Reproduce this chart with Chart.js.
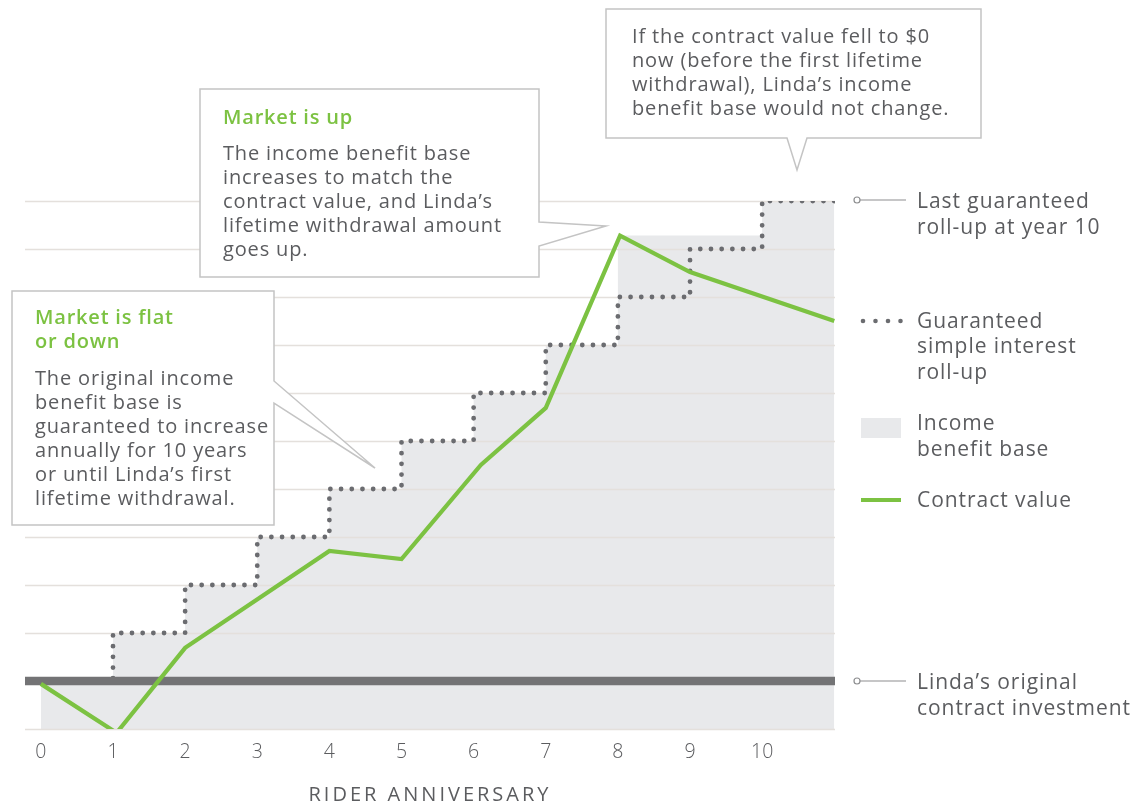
<!DOCTYPE html>
<html>
<head>
<meta charset="utf-8">
<script src="https://cdn.jsdelivr.net/npm/chart.js@4.4.1/dist/chart.umd.min.js"></script>
<style>
  html, body { margin: 0; padding: 0; background: #ffffff; }
  #wrap { width: 1139px; height: 804px; position: relative; }
</style>
</head>
<body>
<div id="wrap"><canvas id="chart" width="1139" height="804"></canvas></div>
<script>
// Rider anniversaries shown on the x axis
const anniversaries = [0, 1, 2, 3, 4, 5, 6, 7, 8, 9, 10];
const tickLabels = ['0', '1', '2', '3', '4', '5', '6', '7', '8', '9', '10'];
const axisTitle = 'RIDER ANNIVERSARY';

// Linda's original contract investment (in units of the chart's grid)
const originalInvestment = 1;

// Guaranteed simple interest roll-up, stepping up each anniversary until year 10
const rollupYears = [0, 1, 2, 3, 4, 5, 6, 7, 8, 9, 10, 11];
const rollupValues = [1, 2, 3, 4, 5, 6, 7, 8, 9, 10, 11, 11];

// Income benefit base (steps up to the contract value at year 8)
const baseYears = [0, 1, 2, 3, 4, 5, 6, 7, 8, 9, 10, 11];
const baseValues = [1, 2, 3, 4, 5, 6, 7, 8, 10.28, 10.28, 11, 11];

// Contract value path
const contractYears = [0, 1.05, 2, 4, 5, 6.1, 7, 8.03, 9, 11];
const contractValues = [0.94, -0.08, 1.69, 3.71, 3.54, 5.5, 6.69, 10.28, 9.52, 8.5];

const FONT = '"Open Sans", "DejaVu Sans", sans-serif';
const TEXT = '#5b5c5f';
const GREEN = '#7cc242';
const DOT = '#6b6c70';
const BASE_FILL = '#e8e9eb';
const GRID = '#e4e0dc';

const pts = (xs, ys) => xs.map((x, i) => ({ x: x, y: ys[i] }));

// Grid lines are painted right after the benefit-base fill so they sit on top of it
const gridAfterFill = {
  id: 'gridAfterFill',
  afterDatasetDraw(chart, args) {
    if (args.index !== 0) return;
    const { ctx, chartArea, scales } = chart;
    const y = scales.y;
    ctx.save();
    ctx.strokeStyle = GRID;
    ctx.lineWidth = 1.3;
    for (let v = y.min; v <= y.max; v += 1) {
      const py = Math.round(y.getPixelForValue(v)) + 0.5;
      ctx.beginPath();
      ctx.moveTo(chartArea.left, py);
      ctx.lineTo(chartArea.right, py);
      ctx.stroke();
    }
    ctx.restore();
  }
};

function callout(ctx, pathPts) {
  ctx.beginPath();
  pathPts.forEach((p, i) => (i ? ctx.lineTo(p[0], p[1]) : ctx.moveTo(p[0], p[1])));
  ctx.closePath();
  ctx.fillStyle = '#ffffff';
  ctx.fill();
  ctx.strokeStyle = '#c4c4c4';
  ctx.lineWidth = 1.5;
  ctx.stroke();
}

function lines(ctx, arr, x, y0, step, font, color, spacing, align) {
  ctx.font = font;
  ctx.fillStyle = color;
  ctx.letterSpacing = spacing || '0px';
  ctx.textAlign = align || 'left';
  ctx.textBaseline = 'middle';
  arr.forEach((t, i) => ctx.fillText(t, x, y0 + i * step));
  ctx.letterSpacing = '0px';
}

// Callout boxes, axis title and the side key
const notes = {
  id: 'notes',
  afterDraw(chart) {
    const { ctx, scales, chartArea } = chart;
    const y = scales.y;
    ctx.save();
    const body = '400 20px ' + FONT;
    const head = '600 20px ' + FONT;
    const bs = '0.85px';
    const hs = '0.8px';

    callout(ctx, [[200, 89], [539, 89], [539, 222], [606, 226], [539, 246], [539, 277], [200, 277]]);
    lines(ctx, ['Market is up'], 223, 118, 24, head, GREEN, hs);
    lines(ctx, ['The income benefit base', 'increases to match the', 'contract value, and Linda\u2019s',
      'lifetime withdrawal amount', 'goes up.'], 223, 154, 24, body, TEXT, bs);

    callout(ctx, [[12, 291], [274, 291], [274, 381], [375, 468], [274, 403], [274, 525], [12, 525]]);
    lines(ctx, ['Market is flat', 'or down'], 35, 318, 24, head, GREEN, hs);
    lines(ctx, ['The original income', 'benefit base is', 'guaranteed to increase',
      'annually for 10 years', 'or until Linda\u2019s first', 'lifetime withdrawal.'], 35, 379, 24, body, TEXT, bs);

    callout(ctx, [[606, 9], [981, 9], [981, 138], [807, 138], [797, 170], [787, 138], [606, 138]]);
    lines(ctx, ['If the contract value fell to $0', 'now (before the first lifetime',
      'withdrawal), Linda\u2019s income', 'benefit base would not change.'], 632, 37, 24, body, TEXT, bs);

    // Axis title
    lines(ctx, [axisTitle], (chartArea.left + chartArea.right) / 2, 795, 0,
      '400 20px ' + FONT, TEXT, '3px', 'center');

    // Side key
    const key = '400 21px ' + FONT;
    const ks = '0.95px';
    const connector = (py) => {
      ctx.strokeStyle = '#8d8e90';
      ctx.lineWidth = 1.2;
      ctx.beginPath();
      ctx.arc(857, py, 3, 0, Math.PI * 2);
      ctx.stroke();
      ctx.beginPath();
      ctx.moveTo(860, py);
      ctx.lineTo(906, py);
      ctx.stroke();
    };
    connector(y.getPixelForValue(11) - 1);
    lines(ctx, ['Last guaranteed', 'roll-up at year 10'], 917, 202, 26, key, TEXT, ks);

    ctx.fillStyle = DOT;
    [863, 875.5, 888, 900.5].forEach(px => { ctx.beginPath(); ctx.arc(px, 321, 2.3, 0, Math.PI * 2); ctx.fill(); });
    lines(ctx, ['Guaranteed', 'simple interest', 'roll-up'], 917, 322, 25.5, key, TEXT, ks);

    ctx.fillStyle = BASE_FILL;
    ctx.fillRect(861, 418, 40, 20);
    lines(ctx, ['Income', 'benefit base'], 917, 424, 26, key, TEXT, ks);

    ctx.strokeStyle = GREEN;
    ctx.lineWidth = 4;
    ctx.beginPath();
    ctx.moveTo(861, 500);
    ctx.lineTo(901, 500);
    ctx.stroke();
    lines(ctx, ['Contract value'], 917, 501, 26, key, TEXT, ks);

    connector(y.getPixelForValue(originalInvestment));
    lines(ctx, ['Linda\u2019s original', 'contract investment'], 917, 683, 26, key, TEXT, ks);
    ctx.restore();
  }
};

new Chart(document.getElementById('chart'), {
  type: 'line',
  data: {
    datasets: [
      {
        label: 'Income benefit base',
        data: pts(baseYears, baseValues),
        stepped: 'before',
        fill: 'start',
        backgroundColor: BASE_FILL,
        borderWidth: 0,
        pointRadius: 0,
        order: 4
      },
      {
        label: 'Guaranteed simple interest roll-up',
        data: pts(rollupYears, rollupValues),
        stepped: 'before',
        fill: false,
        borderColor: DOT,
        borderWidth: 4.8,
        borderDash: [0, 10.7],
        borderCapStyle: 'round',
        pointRadius: 0,
        order: 3
      },
      {
        label: 'Linda\u2019s original contract investment',
        data: [{ x: -0.22, y: originalInvestment }, { x: 11.01, y: originalInvestment }],
        fill: false,
        borderColor: '#737375',
        borderWidth: 8.5,
        borderCapStyle: 'butt',
        pointRadius: 0,
        order: 2
      },
      {
        label: 'Contract value',
        data: pts(contractYears, contractValues),
        fill: false,
        borderColor: GREEN,
        borderWidth: 4.2,
        borderJoinStyle: 'miter',
        tension: 0,
        pointRadius: 0,
        order: 1
      }
    ]
  },
  options: {
    responsive: false,
    animation: false,
    devicePixelRatio: 1,
    layout: { padding: { left: 25, right: 304, top: 201, bottom: 0 } },
    plugins: { legend: { display: false }, tooltip: { enabled: false } },
    scales: {
      x: {
        type: 'linear',
        min: -0.22,
        max: 11.01,
        grid: { display: false },
        border: { display: false },
        afterBuildTicks: (s) => { s.ticks = anniversaries.map(v => ({ value: v })); },
        afterFit: (s) => { s.height = 75; },
        ticks: {
          autoSkip: false,
          maxRotation: 0,
          padding: 4,
          color: TEXT,
          font: { family: FONT, size: 19.5, weight: '300' },
          callback: (v, i) => tickLabels[i]
        },
        title: { display: false }
      },
      y: {
        type: 'linear',
        min: 0,
        max: 11,
        display: false,
        grid: { display: false }
      }
    }
  },
  plugins: [gridAfterFill, notes]
});
</script>
</body>
</html>
